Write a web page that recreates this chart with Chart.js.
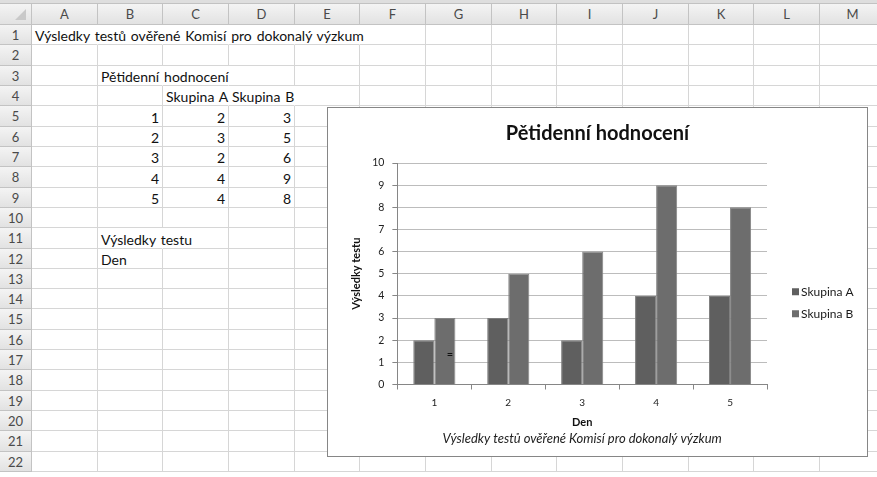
<!DOCTYPE html>
<html>
<head>
<meta charset="utf-8">
<title>Pětidenní hodnocení</title>
<script src="https://cdn.jsdelivr.net/npm/chart.js@4.4.0/dist/chart.umd.min.js"></script>
<style>
  html, body { margin: 0; padding: 0; width: 877px; height: 477px; overflow: hidden; background: #fff; }
  body { position: relative; font-family: Lato, "Open Sans", sans-serif; }
  #topstrip { position: absolute; left: 0; top: 0; width: 877px; height: 4px; background: #dedede; border-bottom: 1px solid #c2c2c2; box-sizing: border-box; }
  .cell { position: absolute; box-sizing: border-box; border-right: 1px solid #d6d6d6; border-bottom: 1px solid #d6d6d6; }
  .hdr { position: absolute; box-sizing: border-box; background: linear-gradient(#f4f4f4, #e2e2e2); border-right: 1px solid #c3c3c3; border-bottom: 1px solid #c3c3c3; color: #4a4a4a; font-size: 13px; text-align: center; }
  .txt { position: absolute; white-space: nowrap; font-size: 14px; word-spacing: 1.3px; color: #111; }
  #frame { position: absolute; left: 327px; top: 107px; width: 539px; height: 348px; border: 1px solid #868686; background: #fff; }
  #frame canvas { display: block; }
</style>
</head>
<body>
<div id="topstrip"></div>
<div id="sheet"></div>
<div id="frame"><canvas id="chart" width="539" height="348"></canvas></div>
<script>
// ---- worksheet content ----
const columns = ['A', 'B', 'C', 'D', 'E', 'F', 'G', 'H', 'I', 'J', 'K', 'L', 'M'];
const rowCount = 22;
const sheetTitle = 'Výsledky testů ověřené Komisí pro dokonalý výzkum';
const chartTitle = 'Pětidenní hodnocení';
const seriesNames = ['Skupina A', 'Skupina B'];
const days = [1, 2, 3, 4, 5];
const groupA = [2, 3, 2, 4, 4];
const groupB = [3, 5, 6, 9, 8];
const yAxisTitle = 'Výsledky testu';
const xAxisTitle = 'Den';
const yMin = 0, yMax = 10, yStep = 1;

// ---- worksheet grid ----
const sheet = document.getElementById('sheet');
const rowHeaderW = 32, colW = 65.67, headTop = 4, headH = 21, rowH = 20.32;
const colLeft = i => Math.round(rowHeaderW + i * colW);
const rowTop = r => Math.round(headTop + headH + (r - 1) * rowH);

const cells = {};
// corner
const corner = document.createElement('div');
corner.className = 'hdr';
Object.assign(corner.style, { left: '0px', top: headTop + 'px', width: rowHeaderW + 'px', height: headH + 'px' });
corner.innerHTML = '<svg width="31" height="20" style="position:absolute;left:0;top:0"><polygon points="26,5 26,16 15,16" fill="#c9c9c9"/></svg>';
sheet.appendChild(corner);

columns.forEach((c, i) => {
  const h = document.createElement('div');
  h.className = 'hdr';
  Object.assign(h.style, { left: colLeft(i) + 'px', top: headTop + 'px', width: (colLeft(i + 1) - colLeft(i)) + 'px', height: headH + 'px', lineHeight: headH + 'px' });
  h.textContent = c;
  sheet.appendChild(h);
});

for (let r = 1; r <= rowCount; r++) {
  const h = document.createElement('div');
  h.className = 'hdr';
  const top = rowTop(r), height = rowTop(r + 1) - rowTop(r);
  Object.assign(h.style, { left: '0px', top: top + 'px', width: rowHeaderW + 'px', height: height + 'px', lineHeight: height + 'px' });
  h.textContent = r;
  sheet.appendChild(h);
  columns.forEach((c, i) => {
    const d = document.createElement('div');
    d.className = 'cell';
    Object.assign(d.style, { left: colLeft(i) + 'px', top: top + 'px', width: (colLeft(i + 1) - colLeft(i)) + 'px', height: height + 'px' });
    sheet.appendChild(d);
    cells[c + r] = d;
  });
}

// cell values, taken from the same arrays the chart uses
const values = {
  A1: sheetTitle,
  B3: chartTitle,
  C4: seriesNames[0],
  D4: seriesNames[1],
  B11: yAxisTitle,
  B12: xAxisTitle
};
days.forEach((d, i) => {
  values['B' + (5 + i)] = d;
  values['C' + (5 + i)] = groupA[i];
  values['D' + (5 + i)] = groupB[i];
});

Object.entries(values).forEach(([ref, v]) => {
  const col = columns.indexOf(ref[0]);
  const row = parseInt(ref.slice(1), 10);
  const t = document.createElement('div');
  t.className = 'txt';
  const top = rowTop(row), height = rowTop(row + 1) - rowTop(row);
  t.style.top = (top + 1) + 'px';
  t.style.height = height + 'px';
  t.style.lineHeight = height + 'px';
  t.textContent = v;
  sheet.appendChild(t);
  if (typeof v === 'number') {
    t.style.left = (colLeft(col + 1) - 4 - 30) + 'px';
    t.style.width = '30px';
    t.style.textAlign = 'right';
  } else {
    const x0 = colLeft(col) + 3;
    t.style.left = x0 + 'px';
    // text that runs past its cell hides the borders it covers
    const w = t.getBoundingClientRect().width;
    for (let k = col; k < columns.length - 1; k++) {
      if (x0 + w > colLeft(k + 1) - 1) cells[columns[k] + row].style.borderRightColor = 'transparent';
      else break;
    }
  }
});

// ---- chart ----
const sideLegend = {
  id: 'sideLegend',
  afterDraw(chart) {
    const { ctx, chartArea } = chart;
    ctx.save();
    ctx.font = '12px Lato, sans-serif';
    ctx.textBaseline = 'middle';
    const mid = (chartArea.top + chartArea.bottom) / 2;
    chart.data.datasets.forEach((ds, i) => {
      const x = chartArea.right + 25;
      const y = mid + 18 + i * 22;
      ctx.fillStyle = ds.backgroundColor;
      ctx.fillRect(x, y - 3.5, 7, 7);
      ctx.fillStyle = '#1a1a1a';
      ctx.fillText(ds.label, x + 9, y + 0.5);
    });
    ctx.restore();
  }
};

// small "=" mark sitting on the first Skupina B bar
const barMark = {
  id: 'barMark',
  afterDatasetsDraw(chart) {
    const bar = chart.getDatasetMeta(1).data[0];
    if (!bar) return;
    const { ctx } = chart;
    ctx.save();
    ctx.font = '11px Lato, sans-serif';
    ctx.fillStyle = '#111';
    ctx.textAlign = 'center';
    ctx.textBaseline = 'middle';
    ctx.fillText('=', bar.x + 5, chart.scales.y.getPixelForValue(1.35));
    ctx.restore();
  }
};

new Chart(document.getElementById('chart'), {
  type: 'bar',
  data: {
    labels: days.map(String),
    datasets: [
      { label: seriesNames[0], data: groupA, backgroundColor: '#5f5f5f', borderColor: '#7d7d7d', borderWidth: 1 },
      { label: seriesNames[1], data: groupB, backgroundColor: '#6d6d6d', borderColor: '#858585', borderWidth: 1 }
    ]
  },
  options: {
    responsive: false,
    animation: false,
    devicePixelRatio: 1,
    layout: { padding: 0 },
    datasets: { bar: { categoryPercentage: 0.57, barPercentage: 1.0 } },
    plugins: {
      legend: { display: false },
      tooltip: { enabled: false },
      title: {
        display: true,
        text: chartTitle,
        color: '#111',
        font: { family: 'Lato, sans-serif', size: 20, weight: 'bold', lineHeight: 1.2 },
        padding: { top: 14, bottom: 17 }
      },
      subtitle: {
        display: true,
        position: 'bottom',
        fullSize: false,
        text: sheetTitle,
        color: '#222',
        font: { family: 'Lato, sans-serif', size: 13, style: 'italic', lineHeight: 1.1 },
        padding: { top: 1, bottom: 10 }
      }
    },
    scales: {
      x: {
        grid: { display: true, drawOnChartArea: false, drawTicks: true, tickLength: 5, color: '#868686', offset: true },
        border: { display: true, color: '#868686', width: 1 },
        ticks: { color: '#222', font: { family: 'Lato, sans-serif', size: 10 }, padding: 7 },
        title: { display: true, text: xAxisTitle, color: '#111', font: { family: 'Lato, sans-serif', size: 11, weight: 'bold', lineHeight: 1.2 }, padding: { top: 0, bottom: 2 } }
      },
      y: {
        min: yMin,
        max: yMax,
        grid: { color: '#bcbcbc', tickColor: '#868686', tickLength: 5 },
        border: { display: true, color: '#868686', width: 1 },
        ticks: { stepSize: yStep, color: '#222', font: { family: 'Lato, sans-serif', size: 10.5 }, padding: 8 },
        title: { display: true, text: yAxisTitle, color: '#111', font: { family: 'Lato, sans-serif', size: 11, weight: 'bold', lineHeight: 1.2 }, padding: { top: 22, bottom: 1 } }
      },
      // empty right-hand axis that keeps room free for the legend
      legendSpace: {
        type: 'linear',
        position: 'right',
        display: true,
        grid: { display: false },
        border: { display: false },
        ticks: { display: false },
        afterFit(scale) { scale.width = 100; }
      }
    }
  },
  plugins: [sideLegend, barMark]
});
</script>
</body>
</html>
